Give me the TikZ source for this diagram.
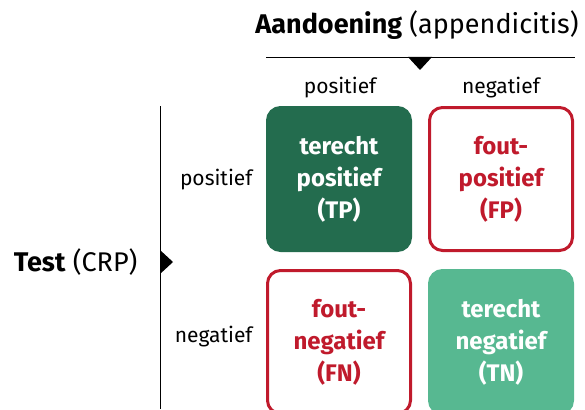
\documentclass[tikz,border=0pt]{standalone}
\usepackage{fontspec}
\setmainfont{Fira Sans}
\usepackage{tikz}
\usetikzlibrary{positioning}
\definecolor{darkgreen}{HTML}{236C4E}
\definecolor{lightgreen}{HTML}{57B891}
\definecolor{errred}{HTML}{C01A2C}

\tikzset{
  cell/.style={rounded corners=13pt, line width=3pt, minimum width=143pt,
    minimum height=143pt, align=center, font=\fontsize{24}{32}\selectfont\bfseries},
  good/.style={cell, draw=#1, fill=#1, text=white},
  bad/.style={cell, draw=errred, fill=white, text=errred},
  lbl/.style={font=\fontsize{21}{25}\selectfont},
  head/.style={font=\fontsize{27}{32}\selectfont}
}

\begin{document}
\begin{tikzpicture}[x=1pt, y=-1pt]
      \useasboundingbox (0,0) rectangle (585,409);

      % header of the columns
      \node[head] (aandoening) at (417,25) {\textbf{Aandoening} (appendicitis)};
      \coordinate (colL) at (266,57);
      \coordinate (colR) at (575,57);
      \draw[thin] (colL) -- (colR);
      \fill (408,57) -- (432,57) -- (420,70) -- cycle;
      \node[lbl] (colpos) at (340,88) {positief};
      \node[lbl] (colneg) at (501,88) {negatief};

      % header of the rows
      \node[head, anchor=east] (test) at (141,262) {\textbf{Test} (CRP)};
      \coordinate (rowT) at (160,106);
      \coordinate (rowB) at (160,409);
      \draw[thin] (rowT) -- (rowB);
      \fill (160,250) -- (160,274) -- (173,262) -- cycle;
      \node[lbl, anchor=east] (rowpos) at (256,180) {positief};
      \node[lbl, anchor=east] (rowneg) at (256,337) {negatief};

      % the four cells
      \node[good=darkgreen] (tp) at (339,179) {terecht\\positief\\(TP)};
      \node[bad] (fp) at (501,179) {fout-\\positief\\(FP)};
      \node[bad] (fn) at (339,342) {fout-\\negatief\\(FN)};
      \node[good=lightgreen] (tn) at (501,342) {terecht\\negatief\\(TN)};
\end{tikzpicture}
\end{document}
